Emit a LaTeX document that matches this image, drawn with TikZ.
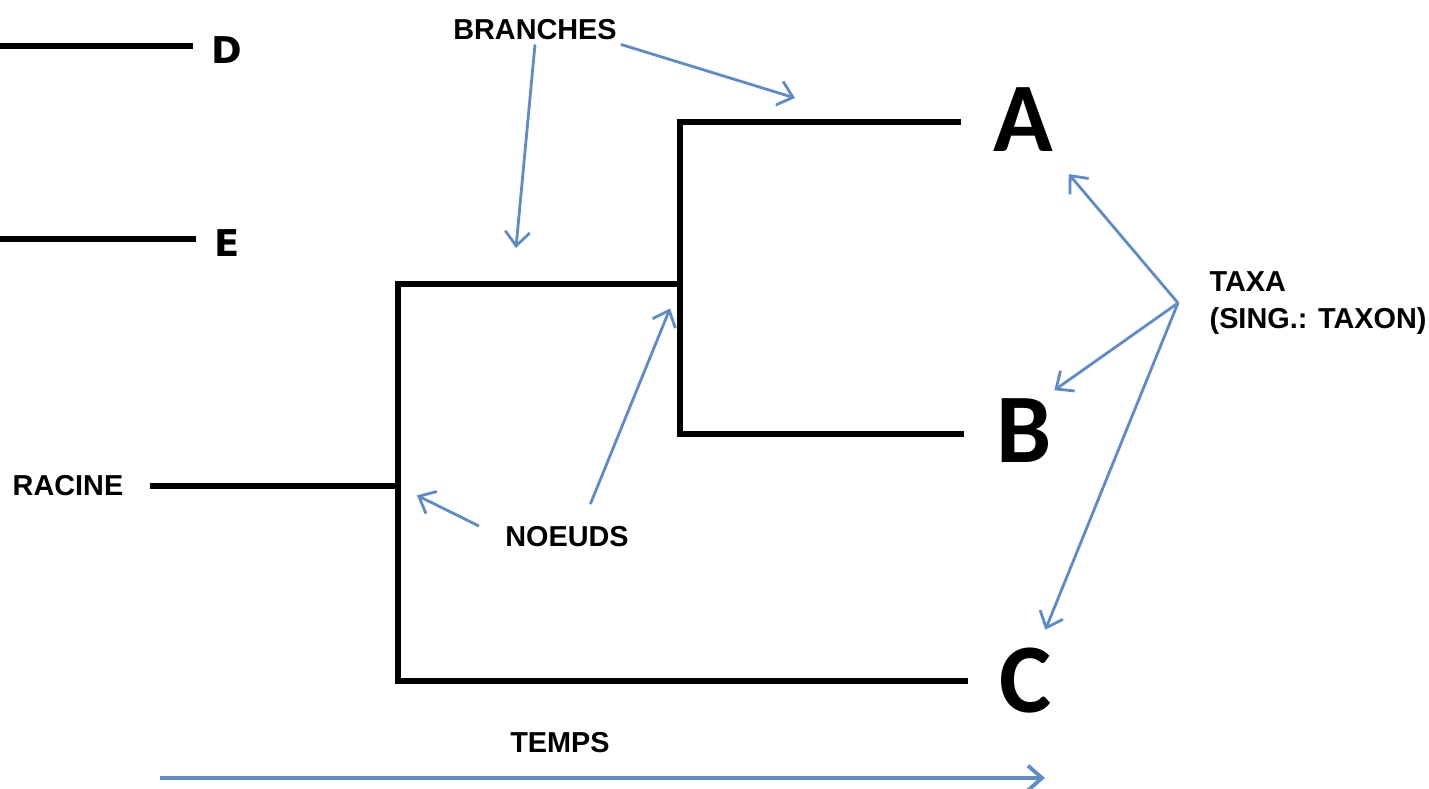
\documentclass[tikz,border=0pt]{standalone}
\usepackage{fontspec}
\setmainfont{Liberation Sans}
\newfontfamily\taxonfont{Carlito}
\newfontfamily\leaffont{DejaVu Sans}
\usetikzlibrary{arrows.meta}
\definecolor{arrowblue}{RGB}{95,140,198}

\tikzset{
  branch/.style={line width=1.7pt},
  pointer/.style={arrowblue,line width=0.8pt,-{Straight Barb[length=4pt,width=7pt]}},
  tag/.style={font=\bfseries\fontsize{8.2}{10.5}\selectfont,inner sep=1pt},
  taxon/.style={font=\taxonfont\bfseries\fontsize{28}{30}\selectfont,
    inner xsep=9pt,inner ysep=0pt},
  leaf/.style={font=\leaffont\bfseries\fontsize{10.5}{11}\selectfont,
    inner xsep=5pt,inner ysep=0pt},
}

\begin{document}
\begin{tikzpicture}[x=0.01cm,y=-0.01cm]
  \useasboundingbox (0,0) rectangle (1429,789);

  % labels
  \node[leaf] (D) at (227,50) {D};
  \node[leaf] (E) at (227,243) {E};
  \node[taxon] (A) at (1023,120) {A};
  \node[taxon] (B) at (1024,431) {B};
  \node[taxon] (C) at (1026,681) {C};
  \node[tag] (racine) at (68,486) {RACINE};
  \node[tag] (branches) at (535,30) {BRANCHES};
  \node[tag] (noeuds) at (567,537) {NOEUDS};
  \node[tag] (temps) at (560,743) {TEMPS};
  \node[tag,align=left,anchor=west,outer xsep=8pt] (taxa) at (1178,303)
    {TAXA\\(SING.: TAXON)};

  % tree
  \coordinate (d0) at (0,46);
  \coordinate (e0) at (0,239);
  \coordinate (r) at (150,486);
  \coordinate (n1) at (398,486);
  \coordinate (n1a) at (398,284);
  \coordinate (n1c) at (398,681);
  \coordinate (n2) at (680,284);
  \coordinate (n2a) at (680,122);
  \coordinate (n2b) at (680,434);
  \draw[branch] (d0) -- (d0 -| D.west) (e0) -- (e0 -| E.west);
  \draw[branch] (r) -- (n1);
  \draw[branch] (n2) -- (n1a) -- (n1c) -- (n1c -| C.west);
  \draw[branch] (n2a -| A.west) -- (n2a) -- (n2b) -- (n2b -| B.west);

  % pointers
  \coordinate (br1) at (516,248);
  \coordinate (br2) at (795,98);
  \draw[pointer] (branches.south) -- (br1);
  \draw[pointer] (branches.south east) -- (br2);
  \draw[pointer,shorten <=7pt,shorten >=6pt] (noeuds.west) -- (n1);
  \draw[pointer,shorten <=5.7pt,shorten >=7.5pt] ([xshift=4.5pt]noeuds.north) -- (n2);
  \draw[pointer,shorten >=8pt] (taxa.west) -- (A);
  \draw[pointer,shorten >=4pt] (taxa.west) -- (B.60);
  \draw[pointer,shorten >=5.5pt] (taxa.west) -- (C.70);

  \coordinate (t0) at (160,778);
  \coordinate (t1) at (1045,778);
  \draw[pointer,line width=1.1pt] (t0) -- (t1);
\end{tikzpicture}
\end{document}
